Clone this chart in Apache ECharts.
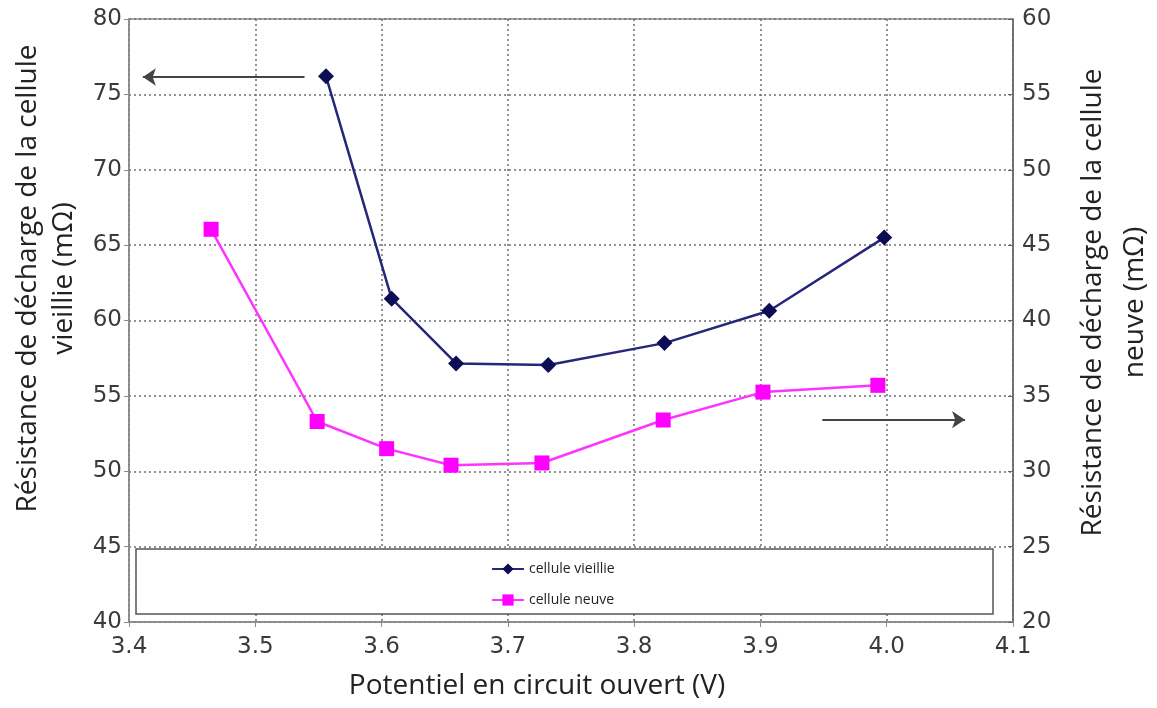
<!DOCTYPE html>
<html>
<head>
<meta charset="utf-8">
<script src="https://cdn.jsdelivr.net/npm/echarts@6/dist/echarts.min.js"></script>
<style>html,body{margin:0;padding:0;background:#fff}#c{width:1157px;height:708px}</style>
</head>
<body>
<div id="c"></div>
<script>
// Data (x = open-circuit potential V, y = resistance mΩ)
const oldX = [3.556, 3.608, 3.659, 3.732, 3.824, 3.907, 3.998];
const oldY = [76.2, 61.45, 57.15, 57.05, 58.5, 60.65, 65.5];
const newX = [3.465, 3.549, 3.604, 3.655, 3.727, 3.823, 3.902, 3.993];
const newY = [46.05, 33.3, 31.5, 30.4, 30.55, 33.4, 35.25, 35.7];
const seriesNames = ['cellule vieillie', 'cellule neuve'];
// annotation arrows (data coords)
const leftArrow = [[3.539, 76.15], [3.411, 76.15]];
const rightArrow = [[3.949, 33.42], [4.062, 33.42]];

const axisFont = 'DejaVu Sans';
const nameFont = 'Open Sans';
const gridColor = '#6f6f6f';

const chart = echarts.init(document.getElementById('c'), null, {renderer: 'canvas'});
chart.setOption({
  animation: false,
  backgroundColor: '#fff',
  grid: {left: 129, right: 144, top: 19, bottom: 86, outerBoundsMode: 'none', containLabel: false,
    show: true, borderColor: '#8a8a8a', borderWidth: 1.5},
  graphic: [{
    type: 'rect', z: 50, silent: true,
    shape: {x: 136, y: 549, width: 857, height: 65},
    style: {fill: '#fff', stroke: '#555', lineWidth: 1.5}
  }],
  legend: {
    z: 60, orient: 'vertical', left: 486, top: 557, itemGap: 17,
    itemWidth: 32, itemHeight: 14, itemStyle: {borderWidth: 0},
    textStyle: {fontFamily: nameFont, fontSize: 14, color: '#222'},
    data: seriesNames
  },
  xAxis: {
    type: 'value', min: 3.4, max: 4.1, interval: 0.1,
    name: 'Potentiel en circuit ouvert (V)', nameLocation: 'middle', nameGap: 50,
    nameTextStyle: {fontFamily: nameFont, fontSize: 28, color: '#222', padding: [0, 68, 0, 0]},
    axisLine: {show: true, lineStyle: {color: '#8a8a8a', width: 1.5}},
    axisTick: {show: true, length: 5, lineStyle: {color: '#8a8a8a'}},
    axisLabel: {fontFamily: axisFont, fontSize: 23, color: '#3a3a3a', margin: 14,
      formatter: v => v.toFixed(1)},
    splitLine: {show: true, lineStyle: {color: gridColor, type: [2, 3], width: 1.5}}
  },
  yAxis: [{
    type: 'value', min: 40, max: 80, interval: 5, position: 'left',
    name: 'Résistance de décharge de la cellule\nvieillie (mΩ)', nameLocation: 'middle', nameGap: 42, nameRotate: 90,
    nameTextStyle: {fontFamily: nameFont, fontSize: 28, color: '#222', lineHeight: 36, padding: [0, 0, 0, 84]},
    axisLine: {show: true, lineStyle: {color: '#8a8a8a', width: 1.5}},
    axisTick: {show: true, length: 5, lineStyle: {color: '#8a8a8a'}},
    axisLabel: {fontFamily: axisFont, fontSize: 23, color: '#3a3a3a', margin: 7},
    splitLine: {show: true, lineStyle: {color: gridColor, type: [2, 3], width: 1.5}}
  }, {
    type: 'value', min: 20, max: 60, interval: 5, position: 'right',
    name: 'Résistance de décharge de la cellule\nneuve (mΩ)', nameLocation: 'middle', nameGap: 59, nameRotate: 90,
    nameTextStyle: {fontFamily: nameFont, fontSize: 28, color: '#222', lineHeight: 42, padding: [0, 0, 0, 36]},
    axisLine: {show: true, lineStyle: {color: '#666', width: 1.5}},
    axisTick: {show: true, length: 5, inside: true, lineStyle: {color: '#666'}},
    axisLabel: {fontFamily: axisFont, fontSize: 23, color: '#3a3a3a', margin: 9},
    splitLine: {show: false}
  }],
  series: [{
    name: seriesNames[0], type: 'line', yAxisIndex: 0,
    data: oldX.map((x, i) => [x, oldY[i]]),
    symbol: 'diamond', symbolSize: 16,
    itemStyle: {color: '#0d0d55'},
    lineStyle: {color: '#26267a', width: 2.5},
    markLine: {
      silent: true, symbol: ['none', 'arrow'], symbolSize: 13,
      label: {show: false},
      lineStyle: {color: '#444', width: 2, type: 'solid'},
      data: [[{coord: leftArrow[0]}, {coord: leftArrow[1]}]]
    }
  }, {
    name: seriesNames[1], type: 'line', yAxisIndex: 1,
    data: newX.map((x, i) => [x, newY[i]]),
    symbol: 'rect', symbolSize: 15,
    itemStyle: {color: '#ff00ff'},
    lineStyle: {color: '#ff33ff', width: 2.5},
    markLine: {
      silent: true, symbol: ['none', 'arrow'], symbolSize: 13,
      label: {show: false},
      lineStyle: {color: '#444', width: 2, type: 'solid'},
      data: [[{coord: rightArrow[0]}, {coord: rightArrow[1]}]]
    }
  }]
});
</script>
</body>
</html>
